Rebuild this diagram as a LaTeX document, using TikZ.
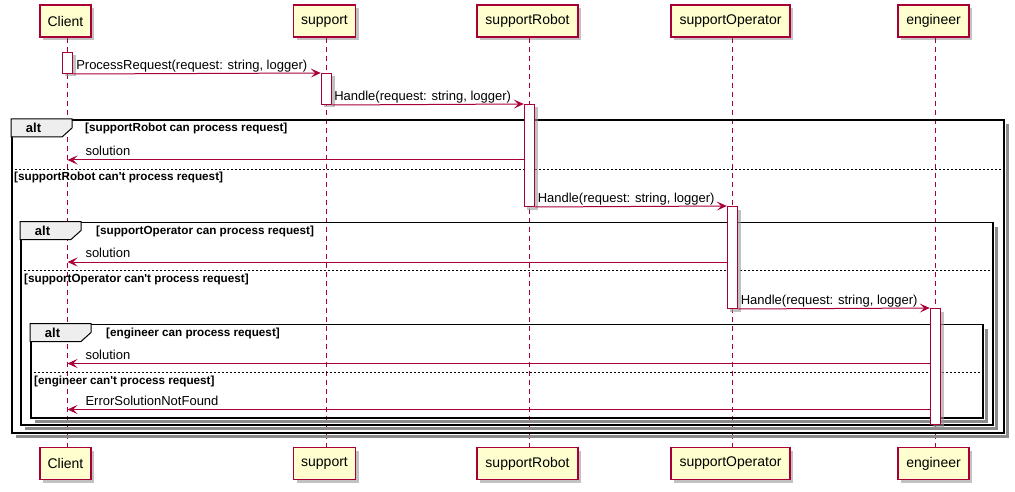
\documentclass[tikz,border=0pt]{standalone}
\usepackage{fontspec}
\newfontfamily\lsans{Liberation Sans}
\usetikzlibrary{arrows.meta,shadows}
\definecolor{pred}{HTML}{A80036}
\definecolor{pfill}{HTML}{FEFECE}
\definecolor{tabfill}{HTML}{EEEEEE}
\begin{document}
\begin{tikzpicture}[x=1pt,y=-1pt,
  shd/.style={drop shadow={shadow xshift=3pt,shadow yshift=-3pt,fill=black!40,opacity=0.6}},
  part/.style={draw=pred,fill=pfill,line width=1.1pt,minimum height=32pt,inner sep=0pt,
    font=\lsans\fontsize{14}{16}\selectfont,shd},
  life/.style={draw=pred,line width=0.9pt,dash pattern=on 5pt off 4pt},
  act/.style={draw=pred,fill=white,line width=1pt,minimum width=10.5pt,inner sep=0pt,anchor=north,shd},
  frame/.style={draw=black,line width=1.9pt,anchor=north west,inner sep=0pt},
  fshadow/.style={fill=black!45},
  tabshape/.style={fill=tabfill,draw=black,line width=1pt},
  altlbl/.style={font=\lsans\bfseries\fontsize{13}{15}\selectfont,inner sep=0pt,anchor=base},
  cond/.style={font=\lsans\bfseries\fontsize{11.7}{13}\selectfont,inner sep=0pt,anchor=base west},
  sep/.style={draw=black,line width=0.8pt,dash pattern=on 2pt off 2pt},
  msg/.style={draw=pred,line width=1pt,-{Stealth[length=10pt,width=9pt,inset=4.5pt]}},
  lbl/.style={font=\lsans\fontsize{13}{15}\selectfont,inner sep=0pt,anchor=base west}
]
\useasboundingbox (0,0) rectangle (1015,492);

% participants
\node[part,minimum width=51pt]  (c1) at (65.5,21) {Client};
\node[part,minimum width=62pt]  (s1) at (324.5,21) {support};
\node[part,minimum width=101pt] (r1) at (527.5,21) {supportRobot};
\node[part,minimum width=119pt] (o1) at (730.5,21) {supportOperator};
\node[part,minimum width=71pt]  (e1) at (933.5,21) {engineer};
\node[part,minimum width=51pt]  (c2) at (65.5,463.5) {Client};
\node[part,minimum width=62pt]  (s2) at (324.5,463.5) {support};
\node[part,minimum width=101pt] (r2) at (527.5,463.5) {supportRobot};
\node[part,minimum width=119pt] (o2) at (730.5,463.5) {supportOperator};
\node[part,minimum width=71pt]  (e2) at (933.5,463.5) {engineer};

% lifelines
\draw[life] ([xshift=2pt]c1.south) -- ([xshift=2pt]c2.north);
\draw[life] ([xshift=2pt]s1.south) -- ([xshift=2pt]s2.north);
\draw[life] ([xshift=2pt]r1.south) -- ([xshift=2pt]r2.north);
\draw[life] ([xshift=2pt]o1.south) -- ([xshift=2pt]o2.north);
\draw[life] ([xshift=2pt]e1.south) -- ([xshift=2pt]e2.north);

% frames
\node[frame,minimum width=992pt,minimum height=313pt] (f1) at (11,119) {};
\node[frame,minimum width=972pt,minimum height=202.5pt] (f2) at (20,221.5) {};
\node[frame,minimum width=952pt,minimum height=93.5pt] (f3) at (30,323.5) {};
\foreach \f in {f1,f2,f3}{
  \fill[fshadow] ([yshift=-5pt,xshift=1pt]\f.north east) rectangle ([xshift=4.5pt,yshift=-4.5pt]\f.south east);
  \fill[fshadow] ([xshift=5pt,yshift=-1pt]\f.south west) rectangle ([xshift=4.5pt,yshift=-4.5pt]\f.south east);
  \filldraw[tabshape] (\f.north west) -- ++(61,0) -- ++(0,9) -- ++(-10,9) -- ++(-51,0) -- cycle;
}
\node[altlbl] (t1) at ([xshift=22.5pt,yshift=-14pt]f1.north west) {alt};
\node[altlbl] (t2) at ([xshift=22.5pt,yshift=-14pt]f2.north west) {alt};
\node[altlbl] (t3) at ([xshift=22.5pt,yshift=-14pt]f3.north west) {alt};
\node[cond] (g1) at ([xshift=74pt,yshift=-13pt]f1.north west) {[supportRobot can process request]};
\node[cond] (g2) at ([xshift=76pt,yshift=-13pt]f2.north west) {[supportOperator can process request]};
\node[cond] (g3) at ([xshift=76pt,yshift=-13pt]f3.north west) {[engineer can process request]};
\draw[sep] (f1.west |- 0,169.5) -- (f1.east |- 0,169.5);
\draw[sep] (f2.west |- 0,270.5) -- (f2.east |- 0,270.5);
\draw[sep] (f3.west |- 0,372.5) -- (f3.east |- 0,372.5);
\node[cond,xshift=3pt] (h1) at (f1.west |- 0,180) {[supportRobot can't process request]};
\node[cond,xshift=4pt] (h2) at (f2.west |- 0,282) {[supportOperator can't process request]};
\node[cond,xshift=4pt] (h3) at (f3.west |- 0,384) {[engineer can't process request]};

% activations
\node[act,minimum height=21pt]  (ac) at (67.5,52) {};
\node[act,minimum height=31pt]  (as) at (326.5,73) {};
\node[act,minimum height=102pt] (ar) at (529.5,104) {};
\node[act,minimum height=102pt] (ao) at (732.5,206) {};
\node[act,minimum height=116pt] (ae) at (935.5,308) {};

% messages
\draw[msg] (ac.south east) -- (as.north west)
  node[lbl,pos=0,xshift=2.5pt,yshift=4.5pt] {ProcessRequest(request: string, logger)};
\draw[msg] (as.south east) -- (ar.north west)
  node[lbl,pos=0,xshift=1.5pt,yshift=4.5pt] {Handle(request: string, logger)};
\coordinate (k1) at (67.5,160);
\draw[msg] (ar.west |- k1) -- (k1)
  node[lbl,pos=1,xshift=17.5pt,yshift=4.5pt] {solution};
\draw[msg] (ar.south east) -- (ao.north west)
  node[lbl,pos=0,xshift=2pt,yshift=4.5pt] {Handle(request: string, logger)};
\coordinate (k2) at (67.5,262);
\draw[msg] (ao.west |- k2) -- (k2)
  node[lbl,pos=1,xshift=17.5pt,yshift=4.5pt] {solution};
\draw[msg] (ao.south east) -- (ae.north west)
  node[lbl,pos=0,xshift=2pt,yshift=4.5pt] {Handle(request: string, logger)};
\coordinate (k3) at (67.5,363.5);
\draw[msg] (ae.west |- k3) -- (k3)
  node[lbl,pos=1,xshift=17.5pt,yshift=4.5pt] {solution};
\coordinate (k4) at (67.5,409.5);
\draw[msg] (ae.west |- k4) -- (k4)
  node[lbl,pos=1,xshift=17.5pt,yshift=4.5pt] {ErrorSolutionNotFound};
\end{tikzpicture}
\end{document}
